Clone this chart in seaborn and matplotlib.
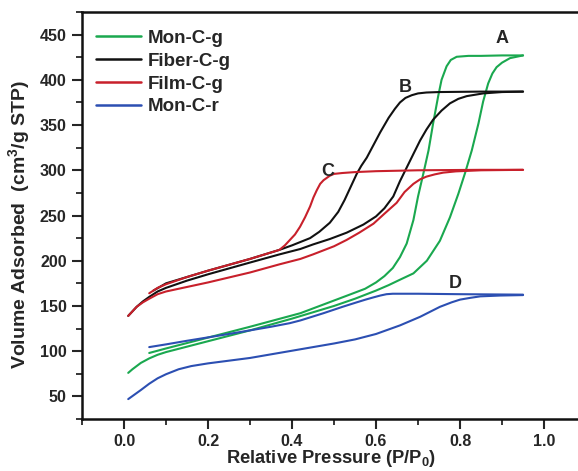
import pandas as pd
import matplotlib
matplotlib.use("Agg")
import matplotlib.pyplot as plt
from matplotlib.ticker import MultipleLocator
import seaborn as sns

# isotherm branches (P/P0, cm3/g STP)
mon_g_ads_x = [0.01, 0.02, 0.04, 0.06, 0.08, 0.10, 0.15, 0.20, 0.30, 0.40, 0.50, 0.55, 0.60, 0.63,
               0.657, 0.689, 0.721, 0.752, 0.776, 0.796, 0.812, 0.828, 0.844, 0.855, 0.867, 0.877,
               0.887, 0.90, 0.919, 0.95]
mon_g_ads_y = [76, 80, 87, 92, 96, 99, 105, 111, 123, 136, 150, 158, 167, 173,
               179, 186, 200, 222, 248, 274, 297, 322, 352, 376, 396, 407,
               414, 419, 424, 427]
mon_g_des_x = [0.95, 0.90, 0.85, 0.82, 0.792, 0.778, 0.768, 0.756, 0.748, 0.736, 0.725, 0.713, 0.70,
               0.689, 0.673, 0.657, 0.64, 0.62, 0.60, 0.574, 0.54, 0.50, 0.42, 0.30, 0.20, 0.10, 0.06]
mon_g_des_y = [427, 427, 426.5, 426.5, 425.5, 422, 415, 400, 382, 352, 322, 297, 271,
               245, 219, 204, 192, 183, 176, 169, 163, 156, 142, 127, 115, 103, 98]

fib_ads_x = [0.01, 0.02, 0.03, 0.045, 0.06, 0.08, 0.10, 0.15, 0.20, 0.30, 0.37, 0.42, 0.45, 0.49,
             0.53, 0.57, 0.60, 0.62, 0.641, 0.657, 0.673, 0.69, 0.705, 0.72, 0.736, 0.756, 0.776,
             0.796, 0.816, 0.855, 0.90, 0.95]
fib_ads_y = [139, 144, 149, 155, 160, 166, 170, 178, 185, 198, 207, 213, 218, 224,
             231, 240, 249, 258, 271, 288, 303, 319, 333, 345, 356, 366, 374,
             379, 382, 385, 386.5, 387]
fib_des_x = [0.95, 0.85, 0.75, 0.72, 0.70, 0.685, 0.67, 0.657, 0.645, 0.63, 0.61, 0.594, 0.578, 0.565,
             0.554, 0.54, 0.525, 0.51, 0.49, 0.465, 0.443, 0.40, 0.37, 0.30, 0.20, 0.15, 0.10, 0.07]
fib_des_y = [387, 387, 386.5, 386, 385, 383, 380, 375, 368, 358, 342, 328, 314, 305,
             296, 282, 267, 254, 242, 232, 225, 217, 212, 202, 189, 182, 175, 167]

film_ads_x = [0.01, 0.02, 0.03, 0.045, 0.06, 0.08, 0.10, 0.20, 0.30, 0.37, 0.42, 0.45, 0.50, 0.53,
              0.56, 0.594, 0.62, 0.649, 0.668, 0.689, 0.705, 0.72, 0.74, 0.76, 0.79, 0.85, 0.95]
film_ads_y = [139, 144, 149, 154, 158, 163, 166, 176, 187, 196, 202, 207, 216, 223,
              231, 241, 252, 264, 276, 285, 290, 293, 295.5, 297.4, 298.8, 300, 300.5]
film_des_x = [0.95, 0.85, 0.70, 0.60, 0.55, 0.52, 0.50, 0.49, 0.475, 0.467, 0.459, 0.451, 0.443,
              0.431, 0.419, 0.407, 0.395, 0.383, 0.37, 0.30, 0.20, 0.15, 0.10, 0.08, 0.06]
film_des_y = [300.5, 300.5, 300, 299, 298, 297, 296, 294, 289, 285, 278, 270, 260,
              248, 237.5, 229, 223, 217, 212, 202, 189, 182, 174, 170, 164]

mon_r_ads_x = [0.01, 0.025, 0.04, 0.06, 0.08, 0.10, 0.13, 0.16, 0.20, 0.30, 0.40, 0.50, 0.55, 0.60,
               0.657, 0.705, 0.752, 0.78, 0.80, 0.825, 0.848, 0.895, 0.95]
mon_r_ads_y = [47, 52, 57, 64, 70, 74.5, 80, 83.5, 86.5, 92.5, 100.5, 108.5, 113, 119,
               128.5, 138, 149, 154, 157, 159, 160.6, 161.5, 162]
mon_r_des_x = [0.95, 0.80, 0.70, 0.64, 0.625, 0.61, 0.594, 0.575, 0.554, 0.52, 0.475, 0.42, 0.395,
               0.35, 0.30, 0.23, 0.15, 0.10, 0.06]
mon_r_des_y = [162.5, 163, 163.5, 163.5, 163, 161.5, 159.5, 157, 154, 149, 142, 134, 131,
               127, 123, 117.5, 111.5, 107.5, 104.5]

samples = ["Mon-C-g", "Fiber-C-g", "Film-C-g", "Mon-C-r"]
colors = ["#1aa84f", "#111111", "#c8202b", "#2c4fb2"]

branches = [
    ("Mon-C-g", "ads", mon_g_ads_x, mon_g_ads_y),
    ("Mon-C-g", "des", mon_g_des_x, mon_g_des_y),
    ("Fiber-C-g", "ads", fib_ads_x, fib_ads_y),
    ("Fiber-C-g", "des", fib_des_x, fib_des_y),
    ("Film-C-g", "ads", film_ads_x, film_ads_y),
    ("Film-C-g", "des", film_des_x, film_des_y),
    ("Mon-C-r", "ads", mon_r_ads_x, mon_r_ads_y),
    ("Mon-C-r", "des", mon_r_des_x, mon_r_des_y),
]
rows = []
for name, br, xs, ys in branches:
    for x, y in zip(xs, ys):
        rows.append({"sample": name, "branch": br, "P": x, "V": y})
df = pd.DataFrame(rows)

# curve labels
tag_text = ["A", "B", "C", "D"]
tag_x = [0.90, 0.669, 0.486, 0.788]
tag_y = [446, 391, 298.5, 174.7]

sns.set_style("ticks")
plt.rcParams["font.family"] = ["Liberation Sans", "DejaVu Sans"]
plt.rcParams["font.weight"] = "bold"
plt.rcParams["mathtext.fontset"] = "custom"
plt.rcParams["mathtext.bf"] = "Liberation Sans:bold"
plt.rcParams["mathtext.rm"] = "Liberation Sans:bold"

fig = plt.figure(figsize=(5.78, 4.71), dpi=100)
ax = fig.add_axes([0.1419, 0.1104, 0.872, 0.8641])

sns.lineplot(data=df, x="P", y="V", hue="sample", hue_order=samples,
             palette=colors, units="branch", estimator=None, sort=False,
             linewidth=1.5, ax=ax)

ax.set_xlim(-0.1, 1.1)
ax.set_ylim(25, 475)
ax.xaxis.set_major_locator(MultipleLocator(0.2))
ax.xaxis.set_minor_locator(MultipleLocator(0.1))
ax.yaxis.set_major_locator(MultipleLocator(50))
ax.yaxis.set_minor_locator(MultipleLocator(25))
ax.set_xticks([0.0, 0.2, 0.4, 0.6, 0.8, 1.0])
ax.set_xticklabels(["0.0", "0.2", "0.4", "0.6", "0.8", "1.0"])
ax.tick_params(which="major", direction="out", length=7, width=1.5, labelsize=11.5, pad=4)
ax.tick_params(which="minor", direction="out", length=4, width=1.3)
for s in ax.spines.values():
    s.set_linewidth(1.8)
    s.set_color("#111111")

ax.set_xlabel(r"Relative Pressure (P/P$_{\mathbf{0}}$)", fontsize=13.2, fontweight="bold")
ax.set_ylabel("Volume Adsorbed  (cm$^{\\mathbf{3}}$/g STP)", fontsize=14, fontweight="bold")
ax.xaxis.set_label_coords(0.494, -0.072)
ax.yaxis.set_label_coords(-0.097, 0.478)

for t, x, y in zip(tag_text, tag_x, tag_y):
    ax.text(x, y, t, fontsize=13, fontweight="bold", ha="center", va="center")

leg = ax.legend(loc="upper left", bbox_to_anchor=(0.028, 0.957), frameon=False,
                fontsize=13.5, handlelength=2.4, handletextpad=0.35, labelspacing=0.31,
                borderpad=0, borderaxespad=0)
for line in leg.get_lines():
    line.set_linewidth(1.8)

fig.savefig("out.png", dpi=100)
